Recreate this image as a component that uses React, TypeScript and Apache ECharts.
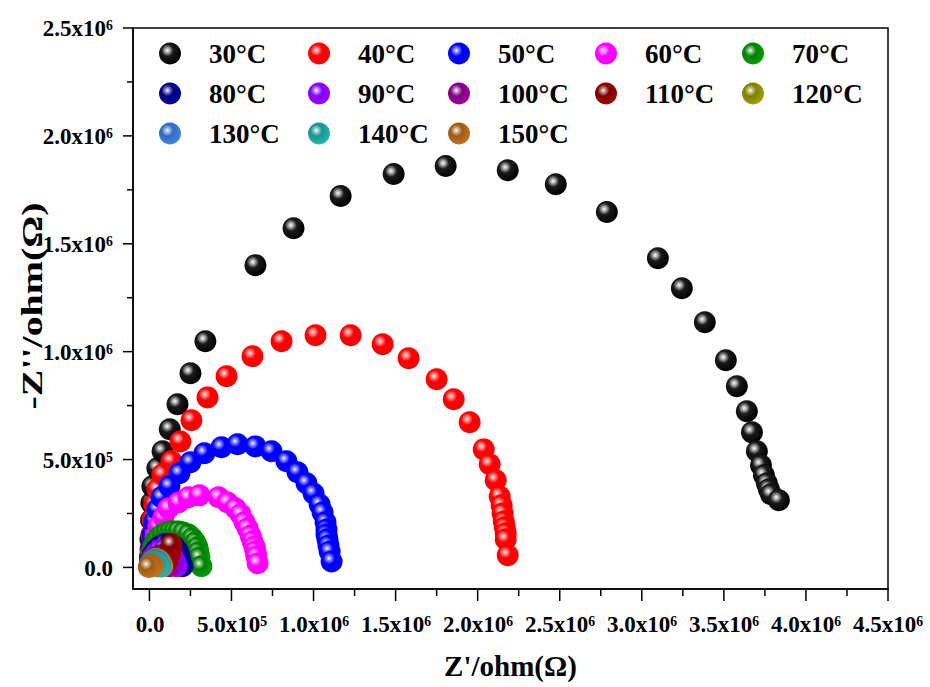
import React, { useEffect, useRef } from "react";
import * as echarts from "echarts";

// Values in units of 1e6 ohm (MΩ): [Z', -Z'']
const labels = ["30°C", "40°C", "50°C", "60°C", "70°C", "80°C", "90°C", "100°C", "110°C", "120°C", "130°C", "140°C", "150°C"];
const colors = ["#000000", "#ff0000", "#0000ff", "#ff00ff", "#008000", "#000080", "#8000ff", "#800080", "#800000", "#808000", "#316abd", "#17958f", "#9c5b17"];

const s30 = [[0.003, 0.05], [0.006, 0.13], [0.01, 0.22], [0.012, 0.3], [0.018, 0.376], [0.048, 0.46], [0.08, 0.538], [0.124, 0.64], [0.171, 0.756], [0.25, 0.9], [0.341, 1.048], [0.646, 1.401], [0.878, 1.572], [1.165, 1.721], [1.488, 1.823], [1.805, 1.86], [2.183, 1.841], [2.476, 1.776], [2.787, 1.647], [3.098, 1.433], [3.244, 1.294], [3.384, 1.136], [3.512, 0.96], [3.579, 0.84], [3.64, 0.724], [3.671, 0.626], [3.701, 0.538], [3.726, 0.473], [3.744, 0.427], [3.762, 0.39], [3.774, 0.362], [3.787, 0.339], [3.835, 0.311]];
const s40 = [[0.006, 0.083], [0.012, 0.153], [0.018, 0.223], [0.03, 0.292], [0.049, 0.362], [0.079, 0.431], [0.134, 0.492], [0.189, 0.584], [0.256, 0.682], [0.354, 0.788], [0.47, 0.886], [0.628, 0.979], [0.805, 1.048], [1.012, 1.076], [1.226, 1.076], [1.421, 1.034], [1.579, 0.969], [1.75, 0.872], [1.854, 0.779], [1.951, 0.673], [2.037, 0.547], [2.073, 0.478], [2.11, 0.404], [2.134, 0.329], [2.146, 0.288], [2.152, 0.25], [2.159, 0.213], [2.165, 0.186], [2.171, 0.158], [2.171, 0.13], [2.183, 0.056]];
const s50 = [[0.012, 0.093], [0.018, 0.153], [0.03, 0.213], [0.049, 0.269], [0.073, 0.325], [0.122, 0.376], [0.183, 0.436], [0.25, 0.487], [0.335, 0.529], [0.439, 0.557], [0.537, 0.571], [0.646, 0.561], [0.744, 0.538], [0.835, 0.492], [0.902, 0.441], [0.957, 0.39], [1.0, 0.343], [1.037, 0.292], [1.055, 0.255], [1.073, 0.209], [1.079, 0.176], [1.079, 0.153], [1.085, 0.13], [1.091, 0.102], [1.098, 0.074], [1.11, 0.028]];
const s60 = [[0.018, 0.056], [0.024, 0.097], [0.037, 0.144], [0.055, 0.19], [0.085, 0.232], [0.116, 0.274], [0.177, 0.301], [0.238, 0.325], [0.305, 0.334], [0.421, 0.325], [0.476, 0.301], [0.524, 0.274], [0.555, 0.246], [0.579, 0.209], [0.598, 0.181], [0.616, 0.148], [0.628, 0.121], [0.64, 0.097], [0.646, 0.074], [0.652, 0.051], [0.659, 0.019]];
const s70 = [[0.006, 0.037], [0.012, 0.07], [0.024, 0.097], [0.037, 0.121], [0.055, 0.139], [0.079, 0.153], [0.104, 0.162], [0.128, 0.167], [0.152, 0.167], [0.177, 0.167], [0.207, 0.162], [0.238, 0.153], [0.262, 0.135], [0.28, 0.116], [0.293, 0.093], [0.299, 0.07], [0.305, 0.046], [0.317, 0.005]];
const s80 = [[0.006, 0.028], [0.018, 0.056], [0.037, 0.079], [0.061, 0.097], [0.091, 0.107], [0.122, 0.107], [0.152, 0.097], [0.171, 0.079], [0.183, 0.056], [0.189, 0.032], [0.201, 0.005]];
const s90 = [[0.006, 0.023], [0.018, 0.046], [0.037, 0.065], [0.061, 0.079], [0.091, 0.083], [0.122, 0.074], [0.14, 0.056], [0.152, 0.032], [0.165, 0.005]];
const s100 = [[0.006, 0.019], [0.024, 0.037], [0.049, 0.051], [0.073, 0.056], [0.098, 0.046], [0.11, 0.028], [0.122, 0.005]];
const s110 = [[0.004, 0.01], [0.012, 0.022], [0.025, 0.033], [0.04, 0.04], [0.055, 0.043], [0.07, 0.042], [0.085, 0.038], [0.098, 0.034], [0.108, 0.036], [0.116, 0.046], [0.122, 0.06], [0.127, 0.075], [0.131, 0.09], [0.134, 0.107]];
const s120 = [[0.004, 0.012], [0.012, 0.026], [0.025, 0.036], [0.04, 0.04], [0.055, 0.036], [0.066, 0.026], [0.074, 0.014], [0.078, 0.004]];
const s130 = [[0.004, 0.01], [0.012, 0.022], [0.025, 0.03], [0.038, 0.032], [0.05, 0.027], [0.058, 0.018], [0.064, 0.005]];
const s140 = [[0.003, 0.008], [0.01, 0.018], [0.02, 0.024], [0.032, 0.025], [0.042, 0.02], [0.05, 0.011], [0.054, 0.004]];
const s150 = [[0.002, 0.005], [0.006, 0.01], [0.012, 0.012], [0.018, 0.01], [0.022, 0.006], [-0.004, 0.002]];
const seriesData = [s30, s40, s50, s60, s70, s80, s90, s100, s110, s120, s130, s140, s150];

// Axis ranges and ticks (MΩ)
const xRange = [-0.1, 4.5];
const yRange = [-0.1, 2.5];
const xTickMax = 4.5;
const yTickMax = 2.5;
const tickStep = 0.5;
const xMajorTicks = [0, 0.5, 1.0, 1.5, 2.0, 2.5, 3.0, 3.5, 4.0, 4.5];
const xMinorTicks = [0.25, 0.75, 1.25, 1.75, 2.25, 2.75, 3.25, 3.75, 4.25];
const yMajorTicks = [0, 0.5, 1.0, 1.5, 2.0, 2.5];
const yMinorTicks = [0.25, 0.75, 1.25, 1.75, 2.25];

const legendColumns = [
  ["30°C", "80°C", "130°C"],
  ["40°C", "90°C", "140°C"],
  ["50°C", "100°C", "150°C"],
  ["60°C", "110°C"],
  ["70°C", "120°C"],
];
const legendLefts = [154, 303, 443, 590, 737];

const FONT = "'Liberation Serif', 'Times New Roman', serif";

function fmt(v: number): string {
  if (Math.abs(v) < 1e-9) return "0.0";
  if (v < 1) return `${(v * 10).toFixed(1)}x10⁵`;
  return `${v.toFixed(1)}x10⁶`;
}

function sphere(c: string) {
  const isBlack = c === "#000000";
  return new echarts.graphic.RadialGradient(0.38, 0.36, 0.64, [
    { offset: 0, color: "#ffffff" },
    { offset: 0.16, color: isBlack ? "#b0b0b0" : echarts.color.lift(c, 0.55) },
    { offset: 0.42, color: isBlack ? "#1a1a1a" : c },
    { offset: 1, color: isBlack ? "#000000" : echarts.color.lift(c, -0.25) },
  ]);
}

function tickSeries(values: number[], dir: "x" | "y", len: number) {
  return {
    type: "custom",
    xAxisIndex: 0,
    yAxisIndex: 0,
    clip: false,
    silent: true,
    z: 5,
    data: values.map((v) => (dir === "x" ? [v, yRange[0]] : [xRange[0], v])),
    renderItem: (_p: any, api: any) => {
      const pt = api.coord([api.value(0), api.value(1)]);
      const shape = dir === "x"
        ? { x1: pt[0], y1: pt[1], x2: pt[0], y2: pt[1] + len }
        : { x1: pt[0] - len, y1: pt[1], x2: pt[0], y2: pt[1] };
      return { type: "line", shape, style: { stroke: "#000", lineWidth: 1.5 } };
    },
  };
}

export default function App() {
  const ref = useRef<HTMLDivElement>(null);
  useEffect(() => {
    if (!ref.current) return;
    const chart = echarts.init(ref.current, null, { renderer: "svg" });
    const lineStyle = { color: "#000", width: 1.5 };
    const labelBase = { fontSize: 23, fontWeight: "bold", fontFamily: FONT, color: "#000" };
    chart.setOption({
      animation: false,
      backgroundColor: "#ffffff",
      grid: [
        { left: 133, right: 42, top: 28, bottom: 98, show: true, borderColor: "#000", borderWidth: 1.5, backgroundColor: "transparent" },
        { left: 150, right: 42, top: 28, bottom: 119, show: false },
      ],
      legend: legendColumns.map((col, i) => ({
        data: col,
        orient: "vertical",
        left: legendLefts[i],
        top: 35,
        itemWidth: 68,
        itemHeight: 22,
        itemGap: 13,
        icon: "circle",
        selectedMode: false,
        textStyle: { fontSize: 27, fontWeight: "bold", fontFamily: FONT, color: "#000", lineHeight: 26 },
      })),
      graphic: [
        {
          type: "text",
          x: 32,
          y: 306,
          rotation: Math.PI / 2,
          scaleX: 1.33,
          style: {
            text: "-Z''/ohm(Ω)",
            font: `bold 30px ${FONT}`,
            fill: "#000",
            textAlign: "center",
            textVerticalAlign: "middle",
          },
        },
      ],
      xAxis: [
        {
          type: "value", gridIndex: 0, min: xRange[0], max: xRange[1], position: "bottom",
          axisLine: { show: true, onZero: false, lineStyle },
          axisTick: { show: false },
          axisLabel: { show: false },
          splitLine: { show: false },
          name: "Z'/ohm(Ω)", nameLocation: "middle", nameGap: 62,
          nameTextStyle: { fontSize: 29, fontWeight: "bold", fontFamily: FONT, color: "#000" },
        },
        {
          type: "value", gridIndex: 1, min: 0, max: xTickMax, interval: tickStep, position: "bottom", offset: 21,
          axisLine: { show: false, onZero: false },
          axisTick: { show: false },
          axisLabel: { ...labelBase, formatter: fmt, margin: 24 },
          splitLine: { show: false },
        },
      ],
      yAxis: [
        {
          type: "value", gridIndex: 0, min: yRange[0], max: yRange[1], position: "left",
          axisLine: { show: true, onZero: false, lineStyle },
          axisTick: { show: false },
          axisLabel: { show: false },
          splitLine: { show: false },
        },
        {
          type: "value", gridIndex: 1, min: 0, max: yTickMax, interval: tickStep, position: "left", offset: 17,
          axisLine: { show: false, onZero: false },
          axisTick: { show: false },
          axisLabel: { ...labelBase, formatter: fmt, margin: 20 },
          splitLine: { show: false },
        },
      ],
      series: [
        ...seriesData.map((d, i) => ({
          type: "scatter",
          name: labels[i],
          xAxisIndex: 0,
          yAxisIndex: 0,
          data: d,
          symbol: "circle",
          symbolSize: 22,
          clip: false,
          itemStyle: { color: sphere(colors[i]), opacity: 1 },
          emphasis: { disabled: true },
        })),
        tickSeries(xMajorTicks, "x", 12),
        tickSeries(xMinorTicks, "x", 7),
        tickSeries(yMajorTicks, "y", 10),
        tickSeries(yMinorTicks, "y", 6),
      ],
    });
    return () => chart.dispose();
  }, []);
  return <div ref={ref} style={{ width: 930, height: 687, position: "absolute", left: 0, top: 0 }} />;
}
